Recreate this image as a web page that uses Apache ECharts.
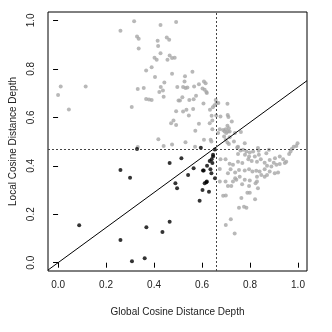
<!DOCTYPE html>
<html>
<head>
<meta charset="utf-8">
<script src="https://cdn.jsdelivr.net/npm/echarts@6/dist/echarts.min.js"></script>
<style>
html,body{margin:0;padding:0;background:#fff;}
#depth_scatterID{width:332px;height:332px;}
</style>
</head>
<body>
<div id="depth_scatterID"></div>
<script>
//深度散点图: 全局 vs 局部
var xTickValues=[0,0.2,0.4,0.6,0.8,1.0];
var yTickValues=[0,0.2,0.4,0.6,0.8,1.0];
var xLimits=[-0.042,1.0375];
var yLimits=[-0.0343,1.0347];
var refX=0.656;   //竖虚线
var refY=0.475;   //横虚线
var lineSlope=refY/refX;

var grayPoints=[
[0.317,0.997],[0.427,0.981],[0.492,0.993],[0.260,0.957],[0.329,0.934],[0.336,0.924],[0.453,0.929],[0.463,0.920],
[0.415,0.916],[0.417,0.894],[0.336,0.884],[0.427,0.864],[0.465,0.855],[0.475,0.845],[0.486,0.846],[0.456,0.838],
[0.402,0.846],[0.411,0.838],[0.390,0.807],[0.367,0.793],[0.475,0.780],[0.404,0.766],[0.529,0.769],[0.527,0.748],
[0.443,0.744],[0.011,0.727],[0.115,0.727],[0.000,0.692],[0.045,0.632],[0.332,0.717],[0.357,0.721],[0.428,0.725],
[0.422,0.705],[0.437,0.711],[0.497,0.725],[0.521,0.725],[0.531,0.721],[0.539,0.723],[0.440,0.685],[0.367,0.676],
[0.379,0.674],[0.390,0.672],[0.502,0.669],[0.508,0.669],[0.518,0.683],[0.547,0.672],[0.307,0.643],[0.492,0.625],
[0.521,0.624],[0.535,0.631],[0.545,0.607],[0.481,0.587],[0.471,0.576],[0.492,0.568],[0.418,0.510],[0.475,0.488],
[0.440,0.482],[0.531,0.497],[0.332,0.477],
[0.560,0.788],[0.567,0.727],[0.587,0.737],[0.608,0.748],[0.615,0.741],[0.602,0.719],[0.611,0.714],[0.618,0.705],
[0.620,0.700],[0.575,0.689],[0.565,0.675],[0.606,0.657],[0.657,0.672],[0.660,0.659],[0.633,0.631],[0.645,0.642],
[0.652,0.650],[0.668,0.659],[0.706,0.656],[0.563,0.634],[0.640,0.606],[0.659,0.607],[0.677,0.603],[0.707,0.610],
[0.710,0.601],[0.724,0.583],[0.643,0.587],[0.632,0.576],[0.587,0.573],[0.674,0.551],[0.688,0.548],[0.699,0.551],
[0.706,0.565],[0.712,0.555],[0.708,0.541],[0.694,0.541],[0.701,0.535],[0.715,0.541],[0.643,0.551],[0.667,0.535],
[0.737,0.535],[0.762,0.539],[0.572,0.545],[0.608,0.507],[0.636,0.507],[0.692,0.521],[0.699,0.507],[0.706,0.496],
[0.712,0.490],[0.715,0.518],[0.733,0.500],[0.778,0.493],[0.571,0.479],[0.750,0.479],[0.833,0.473],[0.982,0.479],
[0.993,0.482],[0.998,0.493],
[0.639,0.500],[0.747,0.475],[0.771,0.466],[0.785,0.459],[0.799,0.455],[0.813,0.459],[0.836,0.462],[0.879,0.466],
[0.868,0.452],[0.837,0.445],[0.820,0.438],[0.796,0.438],[0.779,0.445],[0.760,0.463],[0.750,0.449],[0.677,0.427],
[0.698,0.427],[0.715,0.408],[0.729,0.404],[0.750,0.417],[0.768,0.411],[0.793,0.427],[0.807,0.420],[0.829,0.417],
[0.845,0.427],[0.861,0.413],[0.882,0.424],[0.904,0.431],[0.924,0.438],[0.938,0.427],[0.951,0.417],[0.945,0.411],
[0.963,0.449],[0.969,0.459],[0.974,0.469],[0.899,0.413],[0.910,0.404],[0.924,0.407],[0.889,0.397],[0.871,0.400],
[0.861,0.386],[0.882,0.376],[0.903,0.369],[0.917,0.372],[0.840,0.376],[0.826,0.379],[0.810,0.376],[0.861,0.355],
[0.871,0.362],[0.847,0.362],[0.829,0.355],[0.796,0.386],[0.778,0.380],[0.754,0.383],[0.738,0.372],[0.719,0.386],
[0.708,0.369],[0.674,0.387],[0.757,0.355],[0.738,0.349],[0.729,0.335],[0.743,0.342],[0.778,0.342],[0.799,0.339],
[0.829,0.335],[0.823,0.328],[0.674,0.335],[0.698,0.335],[0.708,0.317],[0.722,0.317],[0.767,0.324],[0.796,0.317],
[0.833,0.307],[0.799,0.289],[0.789,0.289],[0.688,0.276],[0.699,0.277],[0.764,0.267],[0.821,0.262],[0.754,0.227],
[0.775,0.231],[0.785,0.227],[0.720,0.179],[0.699,0.156],[0.736,0.120]
];

var blackPoints=[
[0.329,0.469],[0.595,0.474],[0.514,0.431],[0.465,0.411],[0.565,0.390],[0.542,0.362],[0.489,0.328],[0.496,0.307],
[0.646,0.445],[0.640,0.427],[0.632,0.420],[0.643,0.411],[0.621,0.400],[0.607,0.380],[0.635,0.386],[0.639,0.369],
[0.654,0.349],[0.618,0.332],[0.611,0.328],[0.602,0.300],[0.629,0.293],[0.590,0.256],[0.465,0.169],[0.260,0.383],
[0.300,0.351],[0.088,0.155],[0.260,0.094],[0.368,0.146],[0.435,0.127],[0.308,0.006],[0.361,0.018],[0.653,0.467],
[0.646,0.438],[0.604,0.380],[0.620,0.335]
];

var depth_graphID=echarts.init(document.getElementById('depth_scatterID'));
var labelFont={fontFamily:'Liberation Sans, Arial, sans-serif',fontSize:10,color:'#222'};
var option={
	animation:false,
	grid:{left:48,right:25,top:12,bottom:61,show:true,borderColor:'#000',borderWidth:1,backgroundColor:'transparent'},
	xAxis:{
		type:'value',min:xLimits[0],max:xLimits[1],
		name:'Global Cosine Distance Depth',nameLocation:'middle',nameGap:36,
		nameTextStyle:labelFont,
		axisLine:{show:false},
		axisTick:{show:true,inside:false,length:5,lineStyle:{color:'#000'},customValues:xTickValues},
		axisLabel:Object.assign({margin:9,customValues:xTickValues,formatter:function(v){return v.toFixed(1);}},labelFont),
		splitLine:{show:false}
	},
	yAxis:{
		type:'value',min:yLimits[0],max:yLimits[1],
		name:'Local Cosine Distance Depth',nameLocation:'middle',nameGap:25,
		nameTextStyle:labelFont,
		axisLine:{show:false},
		axisTick:{show:true,inside:false,length:5,lineStyle:{color:'#000'},customValues:yTickValues},
		axisLabel:Object.assign({margin:12,rotate:90,customValues:yTickValues,formatter:function(v){return v.toFixed(1);}},labelFont),
		splitLine:{show:false}
	},
	series:[
		{
			name:'gray',type:'scatter',symbolSize:4,data:grayPoints,
			itemStyle:{color:'#a6a6a6'},
			markLine:{
				silent:true,symbol:'none',label:{show:false},
				lineStyle:{color:'#444',type:[2,2],width:1},
				data:[{xAxis:refX},{yAxis:refY}]
			}
		},
		{
			name:'black',type:'scatter',symbolSize:4,data:blackPoints,
			itemStyle:{color:'#000'}
		},
		{
			name:'diag',type:'line',symbol:'none',silent:true,
			lineStyle:{color:'#000',width:1},
			data:[[xLimits[0],xLimits[0]*lineSlope],[xLimits[1],xLimits[1]*lineSlope]]
		}
	]
};
depth_graphID.setOption(option);
</script>
</body>
</html>
